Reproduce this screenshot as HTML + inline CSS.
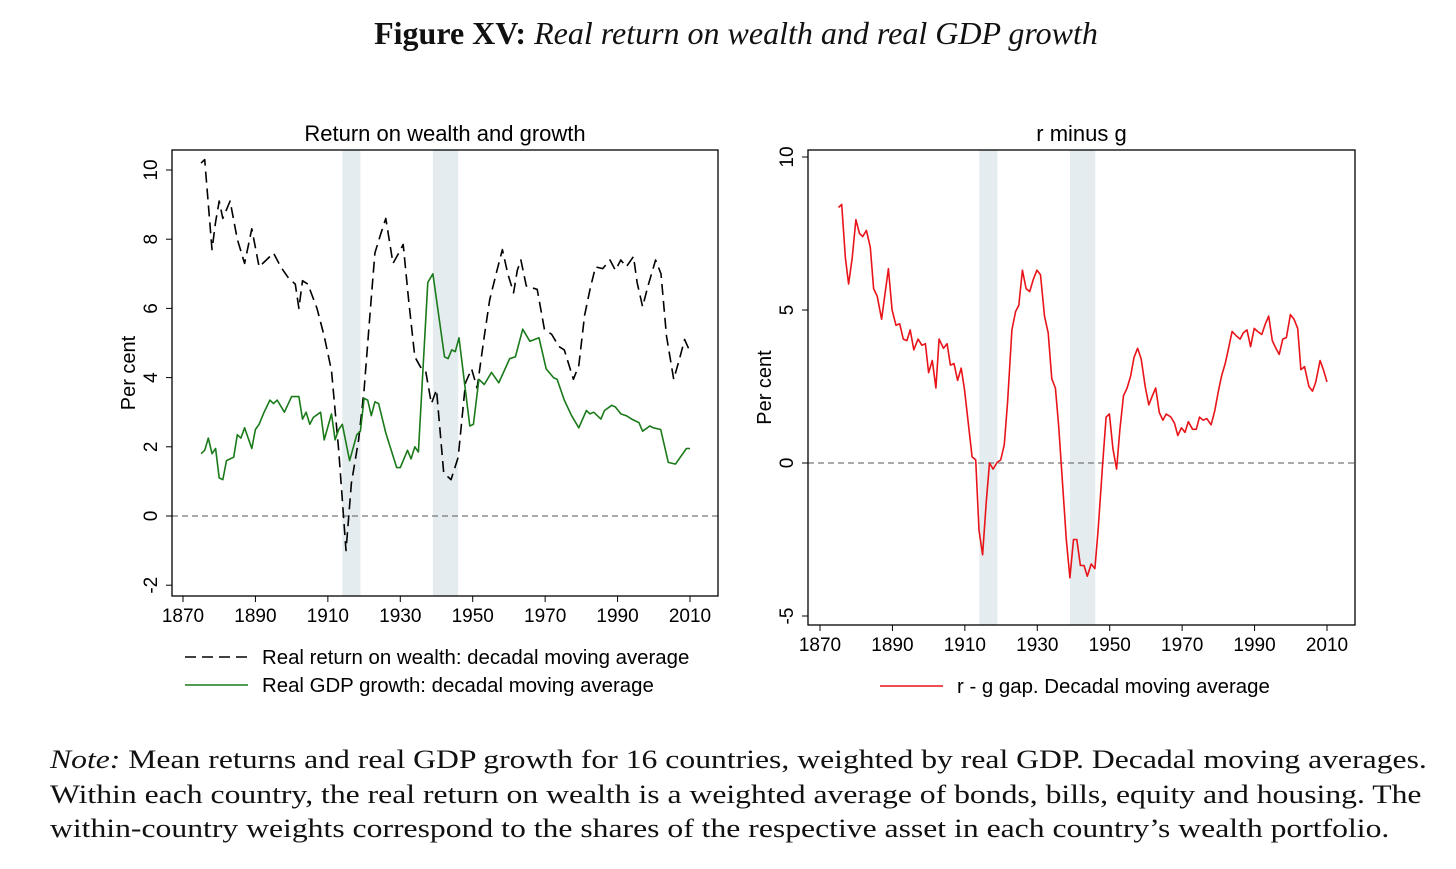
<!DOCTYPE html>
<html><head><meta charset="utf-8">
<style>
body{margin:0;background:#fff;width:1456px;height:869px;overflow:hidden;position:relative;font-family:"Liberation Sans",sans-serif;}
.serif{font-family:"Liberation Serif",serif;}
#title{position:absolute;top:15px;left:0;width:1472px;text-align:center;font-size:32px;color:#111;}
#note{position:absolute;left:50px;top:742px;font-size:26.5px;line-height:34.5px;color:#111;white-space:nowrap;transform:scaleX(1.195);transform-origin:0 0;}
</style></head><body>
<div id="title" class="serif"><b>Figure XV:</b> <i>Real return on wealth and real GDP growth</i></div>
<svg id="chart" width="1456" height="869" style="position:absolute;left:0;top:0"></svg>
<div id="note" class="serif"><i>Note:</i> Mean returns and real GDP growth for 16 countries, weighted by real GDP. Decadal moving averages.<br>Within each country, the real return on wealth is a weighted average of bonds, bills, equity and housing. The<br>within-country weights correspond to the shares of the respective asset in each country’s wealth portfolio.</div>
<script>
const rYears=[1875,1876,1878,1879,1880,1881,1883,1885,1887,1889,1891,1893,1895,1897,1899,1901,1902,1903,1904.5,1907,1909,1911,1913,1915,1916.5,1918.5,1920,1921.6,1923,1924.6,1926,1928,1929.6,1930.8,1932.3,1934,1935.6,1937,1938.6,1940,1942,1944,1946,1948,1949.7,1951.2,1953.2,1954.7,1956.7,1958.2,1959.7,1961.3,1962.3,1963.3,1964.8,1967.8,1969.8,1971.8,1973.8,1975.3,1977.8,1979.3,1980.9,1982.4,1983.9,1985.9,1987.9,1989.4,1990.9,1992.4,1994.4,1995.4,1996.9,1998.4,2000.5,2002,2003.5,2005.5,2007,2008.5,2010];
const rValues=[10.2,10.3,7.7,8.5,9.1,8.6,9.1,8.0,7.3,8.3,7.2,7.4,7.6,7.2,6.9,6.7,6.0,6.8,6.7,6.0,5.2,4.2,1.9,-1.0,0.95,2.2,3.65,5.8,7.6,8.15,8.6,7.3,7.6,7.85,6.25,4.6,4.3,4.2,3.25,3.65,1.25,1.05,1.7,3.85,4.25,3.7,5.2,6.25,7.1,7.7,7.0,6.45,7.1,7.4,6.65,6.55,5.4,5.25,4.9,4.8,3.95,4.35,5.8,6.55,7.2,7.15,7.4,7.1,7.4,7.2,7.5,6.75,6.05,6.65,7.4,7.0,5.2,3.95,4.5,5.1,4.75];
const gYears=[1875,1876,1877,1878,1879,1880,1881,1882,1884,1885,1886,1887,1889,1890,1891,1892.4,1894,1895,1896,1898,1900,1902,1903,1904,1905,1906,1908,1909,1911,1912,1913,1914,1916,1918,1919,1920,1921,1922,1923,1924,1926,1929,1930,1932,1933,1934,1935,1937.6,1939,1942.2,1943.2,1944.2,1945.2,1946.2,1949.2,1950.2,1951.7,1953.2,1955.2,1957.2,1960.2,1961.8,1963.8,1965.8,1968.3,1970.3,1972.3,1973.3,1975.3,1977.3,1979.3,1981.4,1982.4,1983.4,1985.4,1986.4,1988.4,1989.4,1990.9,1992.4,1993.9,1995.9,1996.9,1998.9,1999.9,2001.9,2004,2006,2009,2010];
const gValues=[1.8,1.9,2.25,1.8,1.95,1.1,1.05,1.6,1.7,2.35,2.25,2.55,1.95,2.5,2.65,3.0,3.35,3.25,3.35,3.0,3.45,3.45,2.8,3.0,2.65,2.85,3.0,2.2,2.95,2.2,2.5,2.65,1.6,2.35,2.45,3.4,3.35,2.9,3.3,3.25,2.4,1.4,1.4,1.9,1.65,2.0,1.85,6.75,7.0,4.6,4.55,4.8,4.75,5.15,2.6,2.65,3.95,3.8,4.15,3.85,4.55,4.6,5.4,5.05,5.15,4.25,4.0,3.95,3.35,2.9,2.55,3.05,2.95,3.0,2.8,3.05,3.2,3.15,2.95,2.9,2.8,2.7,2.45,2.6,2.55,2.5,1.55,1.5,1.95,1.95];
const gapYears=[1875.1,1876,1877,1877.9,1878.9,1879.9,1880.9,1881.8,1882.8,1883.9,1884.8,1885.8,1887,1888.9,1889.9,1891,1892,1893,1894,1894.9,1895.9,1897.1,1898.1,1899.1,1900,1901,1902,1902.9,1904.1,1905.1,1906,1907,1908,1909,1909.9,1912,1913,1913.9,1914.9,1915.9,1916.8,1917.8,1918.9,1919.9,1920.9,1921.8,1923,1924,1924.9,1925.9,1926.9,1927.9,1928.9,1929.9,1930.9,1932,1933,1934,1935,1935.9,1936.9,1938,1939,1940,1940.9,1941.9,1942.9,1943.8,1944.9,1945.9,1946.8,1948,1949,1949.9,1950.9,1951.9,1952.8,1953.8,1954.8,1955.8,1956.7,1957.7,1958.7,1959.8,1960.8,1961.8,1962.7,1963.7,1964.7,1965.6,1966.9,1967.9,1968.8,1969.8,1970.8,1971.7,1972.9,1973.9,1974.8,1975.8,1976.8,1978,1979,1980,1980.9,1981.9,1982.9,1983.8,1985,1986,1986.9,1987.9,1988.9,1989.9,1990.8,1992,1993,1993.9,1994.9,1995.9,1996.8,1997.8,1998.8,1999.9,2000.9,2001.9,2002.8,2003.8,2005,2006,2006.9,2008.1,2009,2010];
const gapValues=[8.35,8.45,6.7,5.85,6.7,7.95,7.5,7.4,7.6,7.05,5.7,5.45,4.7,6.35,5.0,4.5,4.55,4.05,4.0,4.35,3.7,4.05,3.85,3.9,2.95,3.35,2.45,4.05,3.75,3.9,3.2,3.25,2.7,3.1,2.4,0.2,0.1,-2.2,-3.0,-1.3,0.0,-0.2,0.02,0.1,0.6,2.0,4.35,4.95,5.15,6.3,5.7,5.6,6.0,6.3,6.15,4.8,4.25,2.75,2.45,1.2,-0.55,-2.5,-3.75,-2.5,-2.5,-3.35,-3.35,-3.7,-3.3,-3.45,-2.2,-0.1,1.5,1.6,0.45,-0.2,1.1,2.2,2.45,2.85,3.45,3.75,3.4,2.5,1.9,2.2,2.45,1.65,1.4,1.6,1.5,1.3,0.9,1.15,1.0,1.35,1.1,1.1,1.5,1.4,1.45,1.25,1.7,2.35,2.85,3.25,3.8,4.3,4.15,4.05,4.25,4.35,3.8,4.4,4.3,4.2,4.55,4.8,4.0,3.75,3.55,4.05,4.1,4.85,4.7,4.4,3.05,3.15,2.5,2.35,2.65,3.35,3.05,2.65];
const xTicks=[1870,1890,1910,1930,1950,1970,1990,2010];
const leftYTicks=[-2,0,2,4,6,8,10];
const rightYTicks=[-5,0,5,10];
const wars=[[1914,1919],[1939,1946]];

const NS="http://www.w3.org/2000/svg";
const svg=document.getElementById('chart');
function mk(tag,attrs,parent){const e=document.createElementNS(NS,tag);for(const k in attrs)e.setAttribute(k,attrs[k]);(parent||svg).appendChild(e);return e;}
function panel(cfg){
  const xs=y=>cfg.x0+(y-1870)*(cfg.x1-cfg.x0)/140;
  const ys=v=>cfg.y0-v*(cfg.y0-cfg.y10)/10;
  const g=mk('g',{});
  
  
  wars.forEach(w=>{const r=mk('rect',{x:xs(w[0]),y:cfg.top,width:xs(w[1])-xs(w[0]),height:cfg.bot-cfg.top,fill:'#e4ecef'},g);
    
    });
  const zl=mk('line',{x1:cfg.left,x2:cfg.right,y1:ys(0),y2:ys(0),stroke:'#777','stroke-width':1.3,'stroke-dasharray':'6,4'},g);
  
  
  const fr=mk('rect',{x:cfg.left,y:cfg.top,width:cfg.right-cfg.left,height:cfg.bot-cfg.top,fill:'none',stroke:'#000','stroke-width':1.3},g);
  
  
  xTicks.forEach(t=>{mk('line',{x1:xs(t),x2:xs(t),y1:cfg.bot,y2:cfg.bot+6,stroke:'#000'},g);
    const tx=mk('text',{x:xs(t),y:cfg.bot+26,'text-anchor':'middle','font-size':19},g);tx.textContent=t;
    
    });
  cfg.yt.forEach(t=>{mk('line',{x1:cfg.left-6,x2:cfg.left,y1:ys(t),y2:ys(t),stroke:'#000'},g);
    const lx=cfg.left-15;
    const tx=mk('text',{x:lx,y:ys(t),'text-anchor':'middle','font-size':19,transform:`rotate(-90 ${lx} ${ys(t)})`},g);tx.textContent=t;
    
    });
  const ax=cfg.left-37, ay=(cfg.top+cfg.bot)/2;
  const yt=mk('text',{x:ax,y:ay,'text-anchor':'middle','font-size':20,transform:`rotate(-90 ${ax} ${ay})`},g);yt.textContent='Per cent';
  
  
  const tt=mk('text',{x:(cfg.left+cfg.right)/2,y:141,'text-anchor':'middle','font-size':22},g);tt.textContent=cfg.title;
  
  
  cfg.series.forEach(s=>{
    const d=s.x.map((yr,i)=>(i?'L':'M')+xs(yr).toFixed(1)+','+ys(s.y[i]).toFixed(1)).join('');
    const p=mk('path',{d:d,fill:'none',stroke:s.color,'stroke-width':1.6,'stroke-dasharray':s.dash||'none','stroke-linejoin':'round'},g);
    
    
  });
}
panel({name:'left-panel',title:'Return on wealth and growth',left:172,right:718,top:150,bot:596,x0:183,x1:690,y0:516,y10:170,yt:leftYTicks,
  series:[{x:rYears,y:rValues,color:'#000',dash:'11,6',name:'real-return-line'},{x:gYears,y:gValues,color:'#1a7a1a',name:'gdp-growth-line'}]});
panel({name:'right-panel',title:'r minus g',left:808,right:1355,top:150,bot:625,x0:820,x1:1327,y0:463,y10:157,yt:rightYTicks,
  series:[{x:gapYears,y:gapValues,color:'#e8141a',name:'r-minus-g-line'}]});
function legend(x,y,color,dash,label,name){
  const g=mk('g',{});
  
  
  mk('line',{x1:x,x2:x+63,y1:y,y2:y,stroke:color,'stroke-width':1.5,'stroke-dasharray':dash||'none'},g);
  const t=mk('text',{x:x+77,y:y+7,'font-size':20.4},g);t.textContent=label;
}
legend(185,657,'#000','11,6','Real return on wealth: decadal moving average','legend-real-return');
legend(185,685,'#1a7a1a',null,'Real GDP growth: decadal moving average','legend-gdp-growth');
legend(880,686,'#e8141a',null,'r - g gap. Decadal moving average','legend-r-minus-g');
</script>
</body></html>
